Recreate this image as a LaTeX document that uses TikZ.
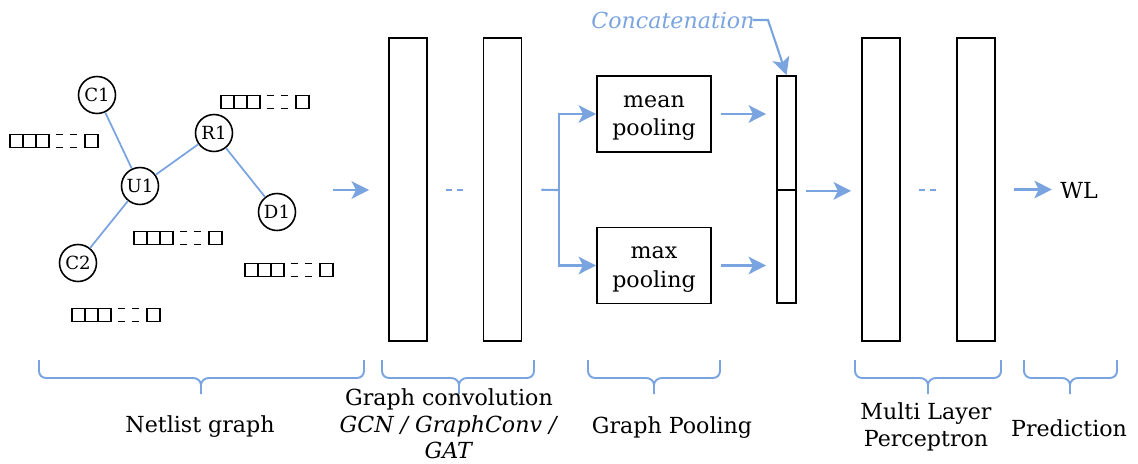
\documentclass[tikz,border=0pt]{standalone}
\usepackage{fontspec}
\setmainfont{DejaVu Serif}
\usetikzlibrary{arrows.meta}
\definecolor{lblue}{RGB}{122,164,224}
\newcommand{\fvec}[2]{%
  \begin{scope}[shift={(#1,#2)}]
    \draw[line width=1pt] (0,-6.5) rectangle (13,6.5) (13,-6.5) rectangle (26,6.5)
      (26,-6.5) rectangle (39,6.5) (75,-6.5) rectangle (88,6.5);
    \draw[line width=1pt, dash pattern=on 4.2pt off 4pt, dash phase=4.5pt]
      (39,-6.5) -- (75,-6.5) (39,6.5) -- (75,6.5);
  \end{scope}}
\newcommand{\hbrace}[3]{%
  \draw[bracel] (#1,360) -- (#1,371) to[out=-90,in=180] (#1+7,378) -- (#3-8,378)
      to[out=0,in=90] (#3,385) -- (#3,394)
    (#2,360) -- (#2,371) to[out=-90,in=0] (#2-7,378) -- (#3+8,378)
      to[out=180,in=90] (#3,385);}
\begin{document}
\begin{tikzpicture}[x=0.02cm,y=-0.02cm,
  every node/.style={font=\fontsize{12.6}{15}\selectfont},
  layer/.style={draw, line width=1pt, minimum width=0.76cm, minimum height=6.06cm, inner sep=0},
  gnode/.style={circle, draw, line width=0.9pt, minimum size=0.74cm, inner sep=0,
    font=\fontsize{10.3}{12}\selectfont},
  edge/.style={lblue, line width=1pt},
  arr/.style={lblue, line width=1.2pt, -{Stealth[length=10pt,width=10pt,inset=2.5pt]}},
  pool/.style={draw, line width=1pt, minimum width=2.28cm, minimum height=1.52cm, inner sep=0},
  pooltext/.style={align=center, inner sep=0, font=\fontsize{12.6}{16}\selectfont},
  catbox/.style={draw, line width=1pt, minimum width=0.38cm, inner sep=0},
  bracel/.style={lblue, line width=1.1pt},
  lbl/.style={align=center},
  dots/.style={lblue, line width=1.1pt, dash pattern=on 3.4pt off 3pt}
]
\useasboundingbox (0,0) rectangle (1138,463);

% netlist graph
\node[gnode] (C1) at (97,95) {C1};
\node[gnode] (R1) at (214,133) {R1};
\node[gnode] (U1) at (140,186) {U1};
\node[gnode] (D1) at (277,212) {D1};
\node[gnode] (C2) at (78,263) {C2};
\draw[edge] (C1) -- (U1);
\draw[edge] (U1) -- (R1);
\draw[edge] (R1) -- (D1);
\draw[edge] (U1) -- (C2);

\fvec{10}{141}
\fvec{221}{102}
\fvec{134}{238}
\fvec{245}{270}
\fvec{72}{315}

% graph convolution
\node[layer] (g1) at (408,189.5) {};
\node[layer] (g2) at (502.5,189.5) {};
\coordinate (gd1) at (446,190);
\coordinate (gd2) at (463,190);
\draw[dots] (gd1) -- (gd2);

\coordinate (gin) at (333,190);
\draw[arr, shorten >=0.38cm] (gin) -- (gin -| g1.west);

% pooling
\node[pool] (mean) at (654,114) {};
\node[pooltext] (meantxt) at (654,118) {mean\\pooling};
\node[pool] (max) at (654,265.5) {};
\node[pooltext] (maxtxt) at (654,269.5) {max\\pooling};
\coordinate (sp) at (559,190);
\draw[edge, line width=1.2pt, shorten <=0.38cm] (g2.east) -- (sp);
\draw[arr] (sp) |- (mean.west);
\draw[arr] (sp) |- (max.west);

% concatenation
\node[catbox, minimum height=2.28cm] (cat1) at (786.5,133) {};
\node[catbox, minimum height=2.26cm] (cat2) at (786.5,246.5) {};
\draw[arr, shorten <=0.18cm, shorten >=0.2cm] (mean.east) -- (mean.east -| cat1.west);
\draw[arr, shorten <=0.18cm, shorten >=0.2cm] (max.east) -- (max.east -| cat2.west);

\node[lblue, inner sep=0, font=\fontsize{12.6}{15}\selectfont\itshape] (concat) at (673,20) {Concatenation};
\coordinate (cbend) at (768,20);
\draw[arr] ([xshift=-0.04cm]concat.east) -- (cbend) -- (cat1.north);

% MLP
\node[layer] (m1) at (881,189.5) {};
\node[layer] (m2) at (976,189.5) {};
\coordinate (md1) at (919,190);
\coordinate (md2) at (936,190);
\draw[dots] (md1) -- (md2);
\draw[arr, shorten <=0.18cm, shorten >=0.2cm] (cat1.south east) -- (cat1.south east -| m1.west);

% prediction
\node[inner sep=0] (wl) at (1079,190) {WL};
\draw[arr, shorten <=0.36cm, shorten >=0.16cm] (m2.east) -- (m2.east -| wl.west);

% braces
\hbrace{39}{364}{201}
\hbrace{382}{534}{459}
\hbrace{588}{720}{654}
\hbrace{855}{1001}{928}
\hbrace{1024}{1117}{1070}

% labels
\node[lbl] (lnet) at (200,427) {Netlist graph};
\node[lbl, inner sep=1pt] (lconv) at (449,424) {Graph convolution\\\textit{GCN / GraphConv /}\\\textit{GAT}};
\node[lbl] (lpool) at (672,428) {Graph Pooling};
\node[lbl] (lmlp) at (926,427) {Multi Layer\\Perceptron};
\node[lbl] (lpred) at (1069,428) {Prediction};
\end{tikzpicture}
\end{document}
